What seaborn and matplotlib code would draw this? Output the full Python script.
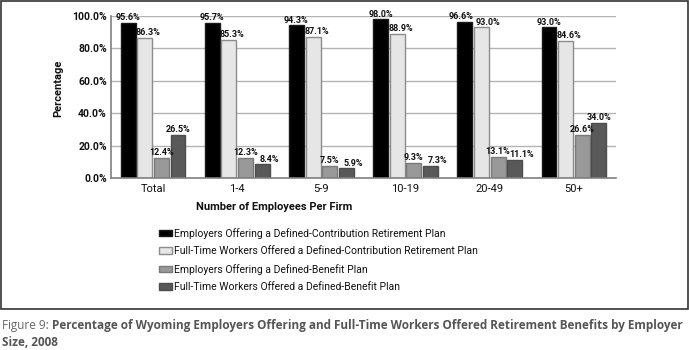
import matplotlib
matplotlib.use("Agg")
import matplotlib.pyplot as plt
import matplotlib.patches as mpatches
from matplotlib import font_manager
import seaborn as sns
import pandas as pd
from matplotlib.ticker import FuncFormatter

categories = ["Total", "1-4", "5-9", "10-19", "20-49", "50+"]
series_names = [
    "Employers Offering a Defined-Contribution Retirement Plan",
    "Full-Time Workers Offered a Defined-Contribution Retirement Plan",
    "Employers Offering a Defined-Benefit Plan",
    "Full-Time Workers Offered a Defined-Benefit Plan",
]
emp_dc = [95.6, 95.7, 94.3, 98.0, 96.6, 93.0]
ftw_dc = [86.3, 85.3, 87.1, 88.9, 93.0, 84.6]
emp_db = [12.4, 12.3, 7.5, 9.3, 13.1, 26.6]
ftw_db = [26.5, 8.4, 5.9, 7.3, 11.1, 34.0]
y_ticks = [0, 20, 40, 60, 80, 100]

colors = ["#000000", "#e6e6e6", "#999999", "#595959"]
edges = ["#1a1a1a", "#8c8c8c", "#7a7a7a", "#4d4d4d"]

all_series = [emp_dc, ftw_dc, emp_db, ftw_db]
rows = []
for name, vals in zip(series_names, all_series):
    for c, v in zip(categories, vals):
        rows.append({"cat": c, "series": name, "val": v})
df = pd.DataFrame(rows)

sns.set_theme(style="white")

names = {f.name for f in font_manager.fontManager.ttflist}
if "Liberation Sans Narrow" in names:
    main_font = "Liberation Sans Narrow"
elif "DejaVu Sans Condensed" in names:
    main_font = "DejaVu Sans Condensed"
else:
    main_font = "Roboto"
plt.rcParams["font.family"] = [main_font, "DejaVu Sans"]

fig = plt.figure(figsize=(6.89, 3.5), dpi=100)
W, H = 689, 350
ax = fig.add_axes([111 / W, 1 - 178 / H, (616 - 111) / W, (178 - 16) / H])

sns.barplot(data=df, x="cat", y="val", hue="series", order=categories,
            hue_order=series_names, palette=colors, width=0.79, gap=0.1,
            ax=ax, legend=False, saturation=1, errorbar=None)

# label offsets (points): keep labels off taller neighbours, and apart from
# neighbouring labels of similar height
n_s = len(all_series)
offsets = [[0.0] * len(categories) for _ in range(n_s)]
for j in range(len(categories)):
    for i in range(n_s):
        v = all_series[i][j]
        hl = all_series[i - 1][j] if i > 0 else 0
        hr = all_series[i + 1][j] if i < n_s - 1 else 0
        if v < hl and v >= hr:
            offsets[i][j] += 2.4
        elif v < hr and v >= hl:
            offsets[i][j] -= 2.4
    for i in range(n_s - 1):
        if abs(all_series[i][j] - all_series[i + 1][j]) < 7:
            offsets[i][j] -= 2.6
            offsets[i + 1][j] += 2.6

for i, cont in enumerate(ax.containers):
    for j, p in enumerate(cont.patches):
        p.set_edgecolor(edges[i])
        p.set_linewidth(1.0)
        v = cont.datavalues[j]
        ax.annotate(f"{v:.1f}%", xy=(p.get_x() + p.get_width() / 2, p.get_height()),
                    xytext=(offsets[i][j], 0.5), textcoords="offset points",
                    ha="center", va="bottom", fontsize=6.5, fontweight="bold",
                    color="#111111", annotation_clip=False)

ax.set_ylim(0, 100)
ax.set_xlim(-0.5, len(categories) - 0.5)
ax.set_yticks(y_ticks)
ax.yaxis.set_major_formatter(FuncFormatter(lambda v, p: f"{v:.1f}%"))
ax.grid(axis="y", color="#b3b3b3", linewidth=1.0)
ax.set_axisbelow(True)
for s in ["top", "right"]:
    ax.spines[s].set_visible(False)
for s in ["left", "bottom"]:
    ax.spines[s].set_color("#808080")
    ax.spines[s].set_linewidth(1.2)
ax.set_xlabel("")
ax.set_ylabel("")
ax.tick_params(axis="y", labelsize=7.5, length=0, pad=3, labelcolor="#111111")
ax.tick_params(axis="x", labelsize=8, length=0, pad=4, labelcolor="#111111")
for lab in ax.get_yticklabels():
    lab.set_fontweight("bold")
ax.set_xticks([i + 0.5 for i in range(len(categories))], minor=True)
ax.tick_params(axis="x", which="minor", direction="in", length=3, color="#808080", width=1)

fig.text(58 / W, 1 - 88 / H, "Percentage", rotation=90, ha="center", va="center",
         fontsize=8, fontweight="bold", color="#111111")
fig.text(274 / W, 1 - 207 / H, "Number of Employees Per Firm", ha="center", va="center",
         fontsize=8, fontweight="bold", color="#111111")

handles = [mpatches.Patch(facecolor=c, edgecolor=e, linewidth=1) for c, e in zip(colors, edges)]
leg = fig.legend(handles, series_names, loc="upper left",
                 bbox_to_anchor=(154 / W, 1 - 222.5 / H), frameon=False,
                 fontsize=7.5, handlelength=1.25, handleheight=0.6,
                 handletextpad=0.2, labelspacing=0.72, borderpad=0)
for t in leg.get_texts():
    t.set_color("#111111")

border = mpatches.Rectangle((0.5 / W, 1 - 309 / H), 687.5 / W, 308.5 / H,
                            transform=fig.transFigure, fill=False,
                            edgecolor="#333333", linewidth=1.2)
fig.patches.append(border)

cap_fam = ["Open Sans", "DejaVu Sans"]
t1 = fig.text(2 / W, 1 - 326 / H, "Figure 9: ", ha="left", va="center",
              fontsize=8.5, color="#666666", family=cap_fam)
fig.canvas.draw()
bb = t1.get_window_extent()
fig.text(bb.x1 / W, 1 - 326 / H,
         "Percentage of Wyoming Employers Offering and Full-Time Workers Offered Retirement Benefits by Employer",
         ha="left", va="center", fontsize=8.5, fontweight="bold", color="#555555", family=cap_fam)
fig.text(2 / W, 1 - 342 / H, "Size, 2008", ha="left", va="center",
         fontsize=8.5, fontweight="bold", color="#555555", family=cap_fam)

fig.savefig("out.png", dpi=100)
